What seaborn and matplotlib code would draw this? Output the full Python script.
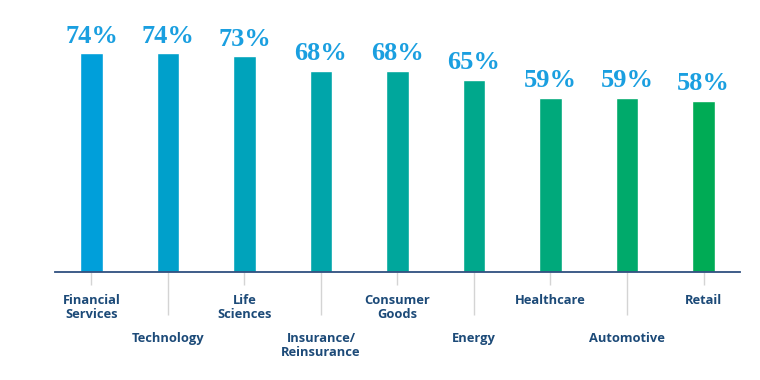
import numpy as np
import matplotlib.pyplot as plt
import pandas as pd
import seaborn as sns

# data
sectors = ["Financial\nServices", "Technology", "Life\nSciences", "Insurance/\nReinsurance",
           "Consumer\nGoods", "Energy", "Healthcare", "Automotive", "Retail"]
shares = [74, 74, 73, 68, 68, 65, 59, 59, 58]
bar_colors = ["#009fda", "#00a0cb", "#00a3bb", "#00a5aa", "#00a79c",
              "#00a88c", "#00a97b", "#00aa6b", "#00ab55"]

df = pd.DataFrame({"sector": sectors, "share": shares})

sns.set_style("white")
fig = plt.figure(figsize=(7.6, 3.8), dpi=100)
ax = fig.add_axes([0.072, 0.284, 0.902, 0.716])

sns.barplot(data=df, x="sector", y="share", hue="sector", palette=bar_colors,
            width=0.29, legend=False, saturation=1, ax=ax)

for c in ax.containers:
    ax.bar_label(c, labels=[f"{v:.0f}%" for v in c.datavalues], padding=4,
                 fontsize=19, fontweight="bold", color="#1a9fe0",
                 family="Liberation Serif")

ax.set_ylim(0, 92)
ax.set_xlim(-0.48, 8.48)
ax.set_xlabel("")
ax.set_ylabel("")
ax.set_yticks([])
for s in ["top", "left", "right"]:
    ax.spines[s].set_visible(False)
ax.spines["bottom"].set_color("#2f4f7f")
ax.spines["bottom"].set_linewidth(1.3)

# staggered labels: even positions as major ticks, odd as minor ticks
lab_kw = dict(fontsize=9.3, fontweight="bold", color="#1c4a78",
              family="Open Sans", linespacing=1.15, multialignment="center")
pos = np.arange(len(sectors))
ax.set_xticks(pos[::2], labels=sectors[::2], **lab_kw)
ax.set_xticks(pos[1::2], labels=sectors[1::2], minor=True, **lab_kw)
ax.tick_params(axis="x", which="major", bottom=True, length=9.5, pad=6,
               color="#d4d4d4", width=1)
ax.tick_params(axis="x", which="minor", bottom=True, length=31, pad=12,
               color="#d4d4d4", width=1)

plt.savefig("out.png", dpi=100)
